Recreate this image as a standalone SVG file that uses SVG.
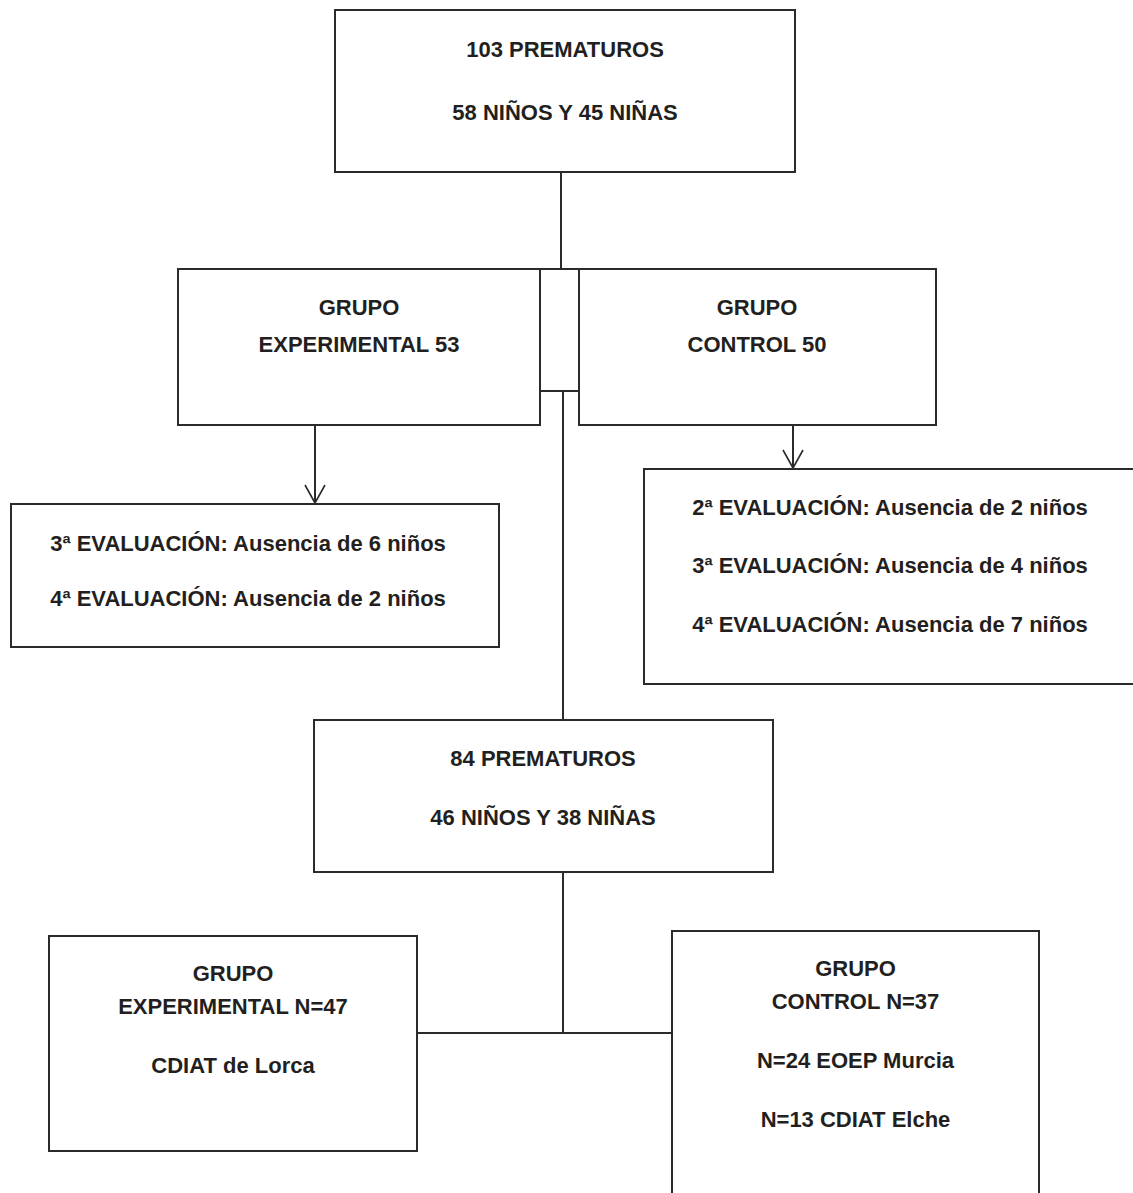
<svg xmlns="http://www.w3.org/2000/svg" width="1133" height="1193" viewBox="0 0 1133 1193">
  <style>
    .box { fill: #ffffff; stroke: #2b2b2b; stroke-width: 2; }
    .link { fill: none; stroke: #2b2b2b; stroke-width: 2; }
    .label { font-family: "Liberation Sans", Arial, sans-serif; font-weight: bold; font-size: 22px; fill: #231f20; text-anchor: middle; }
  </style>
  <defs>
    <marker id="openArrow" viewBox="-20 -12 22 24" refX="0" refY="0" markerWidth="22" markerHeight="24" markerUnits="userSpaceOnUse" orient="auto">
      <path d="M -18 -10 L 0 0 L -18 10" fill="none" stroke="#2b2b2b" stroke-width="1.6"/>
    </marker>
  </defs>

  <rect width="1133" height="1193" fill="#ffffff"/>

  <!-- connectors -->
  <g id="connectors">
    <line class="link" x1="561" y1="172" x2="561" y2="269"/>
    <rect id="junction" class="box" x="540" y="269" width="39" height="122"/>
    <line class="link" x1="563" y1="391" x2="563" y2="720"/>
    <line class="link" x1="315" y1="425" x2="315" y2="503" marker-end="url(#openArrow)"/>
    <line class="link" x1="793" y1="425" x2="793" y2="468" marker-end="url(#openArrow)"/>
    <line class="link" x1="563" y1="872" x2="563" y2="1033"/>
    <line class="link" x1="417" y1="1033" x2="672" y2="1033"/>
  </g>

  <!-- total sample -->
  <g id="node-total">
    <rect class="box" x="335" y="10" width="460" height="162"/>
    <text class="label" x="565" y="57">103 PREMATUROS</text>
    <text class="label" x="565" y="120">58 NIÑOS Y 45 NIÑAS</text>
  </g>

  <!-- experimental group -->
  <g id="node-experimental">
    <rect class="box" x="178" y="269" width="362" height="156"/>
    <text class="label" x="359" y="315">GRUPO</text>
    <text class="label" x="359" y="352">EXPERIMENTAL 53</text>
  </g>

  <!-- control group -->
  <g id="node-control">
    <rect class="box" x="579" y="269" width="357" height="156"/>
    <text class="label" x="757" y="315">GRUPO</text>
    <text class="label" x="757" y="352">CONTROL 50</text>
  </g>

  <!-- experimental dropouts -->
  <g id="node-exp-dropouts">
    <rect class="box" x="11" y="504" width="488" height="143"/>
    <text class="label" x="248" y="551">3ª EVALUACIÓN: Ausencia de 6 niños</text>
    <text class="label" x="248" y="606">4ª EVALUACIÓN: Ausencia de 2 niños</text>
  </g>

  <!-- control dropouts -->
  <g id="node-ctrl-dropouts">
    <rect class="box" x="644" y="469" width="500" height="215"/>
    <text class="label" x="890" y="515">2ª EVALUACIÓN: Ausencia de 2 niños</text>
    <text class="label" x="890" y="573">3ª EVALUACIÓN: Ausencia de 4 niños</text>
    <text class="label" x="890" y="632">4ª EVALUACIÓN: Ausencia de 7 niños</text>
  </g>

  <!-- final sample -->
  <g id="node-final">
    <rect class="box" x="314" y="720" width="459" height="152"/>
    <text class="label" x="543" y="766">84 PREMATUROS</text>
    <text class="label" x="543" y="825">46 NIÑOS Y 38 NIÑAS</text>
  </g>

  <!-- final experimental group -->
  <g id="node-final-experimental">
    <rect class="box" x="49" y="936" width="368" height="215"/>
    <text class="label" x="233" y="981">GRUPO</text>
    <text class="label" x="233" y="1014">EXPERIMENTAL N=47</text>
    <text class="label" x="233" y="1073">CDIAT de Lorca</text>
  </g>

  <!-- final control group -->
  <g id="node-final-control">
    <rect class="box" x="672" y="931" width="367" height="280"/>
    <text class="label" x="855.5" y="976">GRUPO</text>
    <text class="label" x="855.5" y="1009">CONTROL N=37</text>
    <text class="label" x="855.5" y="1068">N=24 EOEP Murcia</text>
    <text class="label" x="855.5" y="1127">N=13 CDIAT Elche</text>
  </g>
</svg>
